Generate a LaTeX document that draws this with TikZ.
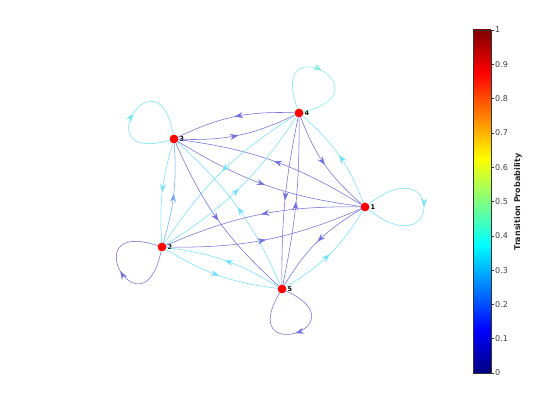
\documentclass[tikz,border=0pt]{standalone}
\usepackage{fontspec}
\setmainfont{DejaVu Sans}
\usetikzlibrary{arrows.meta,decorations.markings}
\definecolor{MClow}{RGB}{112,112,222}
\definecolor{MCmid}{RGB}{112,168,245}
\definecolor{MChigh}{RGB}{112,225,250}
\definecolor{MCtop}{RGB}{120,240,222}
\definecolor{jetA}{rgb}{0,0,0.5}
\definecolor{jetB}{rgb}{0,0,1}
\definecolor{jetC}{rgb}{0,1,1}
\definecolor{jetD}{rgb}{1,1,0}
\definecolor{jetE}{rgb}{1,0,0}
\definecolor{jetF}{rgb}{0.5,0,0}
\pgfdeclareverticalshading{jet}{100bp}{color(0bp)=(jetA); color(25bp)=(jetA);
  color(31.25bp)=(jetB); color(43.75bp)=(jetC); color(56.25bp)=(jetD);
  color(68.75bp)=(jetE); color(75bp)=(jetF); color(100bp)=(jetF)}

\begin{document}
\begin{tikzpicture}[x=1pt, y=1pt,
  state/.style={circle, fill=red, minimum size=8.5pt, inner sep=0pt},
  lbl/.style={font=\fontsize{6.5}{7}\selectfont\bfseries, inner sep=1pt, text=black},
  trans/.style={line width=0.55pt, postaction={decorate},
    decoration={markings, mark=at position 0.5 with {\arrow{Stealth[length=8.5pt,width=6pt,inset=3pt]}}}},
  tick/.style={font=\fontsize{8}{9}\selectfont, text=black!75, anchor=west, inner sep=0pt}]

  \useasboundingbox (0,0) rectangle (560,420);

  % states
  \node[state, label={[lbl]right:1}] (n1) at (365,213) {};
  \node[state, label={[lbl]right:2}] (n2) at (162,173) {};
  \node[state, label={[lbl]right:3}] (n3) at (174,281) {};
  \node[state, label={[lbl]right:4}] (n4) at (299,307) {};
  \node[state, label={[lbl]right:5}] (n5) at (282,131) {};

  % transitions between states
  \draw[trans, MClow]  (n3) to[bend right=14] (n4);
  \draw[trans, MClow]  (n4) to[bend right=14] (n3);
  \draw[trans, MClow]  (n3) to[bend right=12] (n1);
  \draw[trans, MClow]  (n1) to[bend right=12] (n3);
  \draw[trans, MChigh] (n3) to[bend right=10] (n2);
  \draw[trans, MCmid]  (n2) to[bend right=10] (n3);
  \draw[trans, MClow]  (n3) to[bend right=12] (n5);
  \draw[trans, MChigh] (n5) to[bend right=12] (n3);
  \draw[trans, MChigh] (n4) to[bend right=12] (n2);
  \draw[trans, MChigh] (n2) to[bend right=12] (n4);
  \draw[trans, MClow]  (n4) to[bend right=6] (n5);
  \draw[trans, MClow]  (n5) to[bend right=6] (n4);
  \draw[trans, MClow]  (n4) to[bend right=14] (n1);
  \draw[trans, MChigh] (n1) to[bend right=14] (n4);
  \draw[trans, MClow]  (n1) to[bend right=12] (n2);
  \draw[trans, MClow]  (n2) to[bend right=12] (n1);
  \draw[trans, MClow]  (n1) to[bend right=14] (n5);
  \draw[trans, MChigh] (n5) to[bend right=14] (n1);
  \draw[trans, MChigh] (n2) to[bend right=12] (n5);
  \draw[trans, MChigh] (n5) to[bend right=12] (n2);

  % self transitions
  \draw[trans, MChigh] (n1) to[out=38,in=-38,distance=94pt] (n1);
  \draw[trans, MClow]  (n2) to[out=258,in=162,distance=90pt] (n2);
  \draw[trans, MChigh] (n3) to[out=196,in=100,distance=90pt] (n3);
  \draw[trans, MCtop]  (n4) to[out=110,in=14,distance=90pt] (n4);
  \draw[trans, MClow]  (n5) to[out=335,in=239,distance=86pt] (n5);

  % redraw states on top
  \foreach \n in {n1,n2,n3,n4,n5}
    \fill[red] (\n) circle (4.25pt);

  % colour bar
  \shade[shading=jet] (473,47) rectangle (491,390);
  \draw[black!80, line width=0.5pt] (473,47) rectangle (491,390);
  \foreach \v in {0,0.1,0.2,0.3,0.4,0.5,0.6,0.7,0.8,0.9,1} {
    \draw[black!80, line width=0.5pt] (491,47+343*\v) -- (493.5,47+343*\v);
    \node[tick] at (495,47+343*\v) {\v};
  }
  \node[rotate=90, font=\fontsize{8}{9}\selectfont\bfseries, text=black!85] (cbl) at (518,218) {Transition Probability};
\end{tikzpicture}
\end{document}
